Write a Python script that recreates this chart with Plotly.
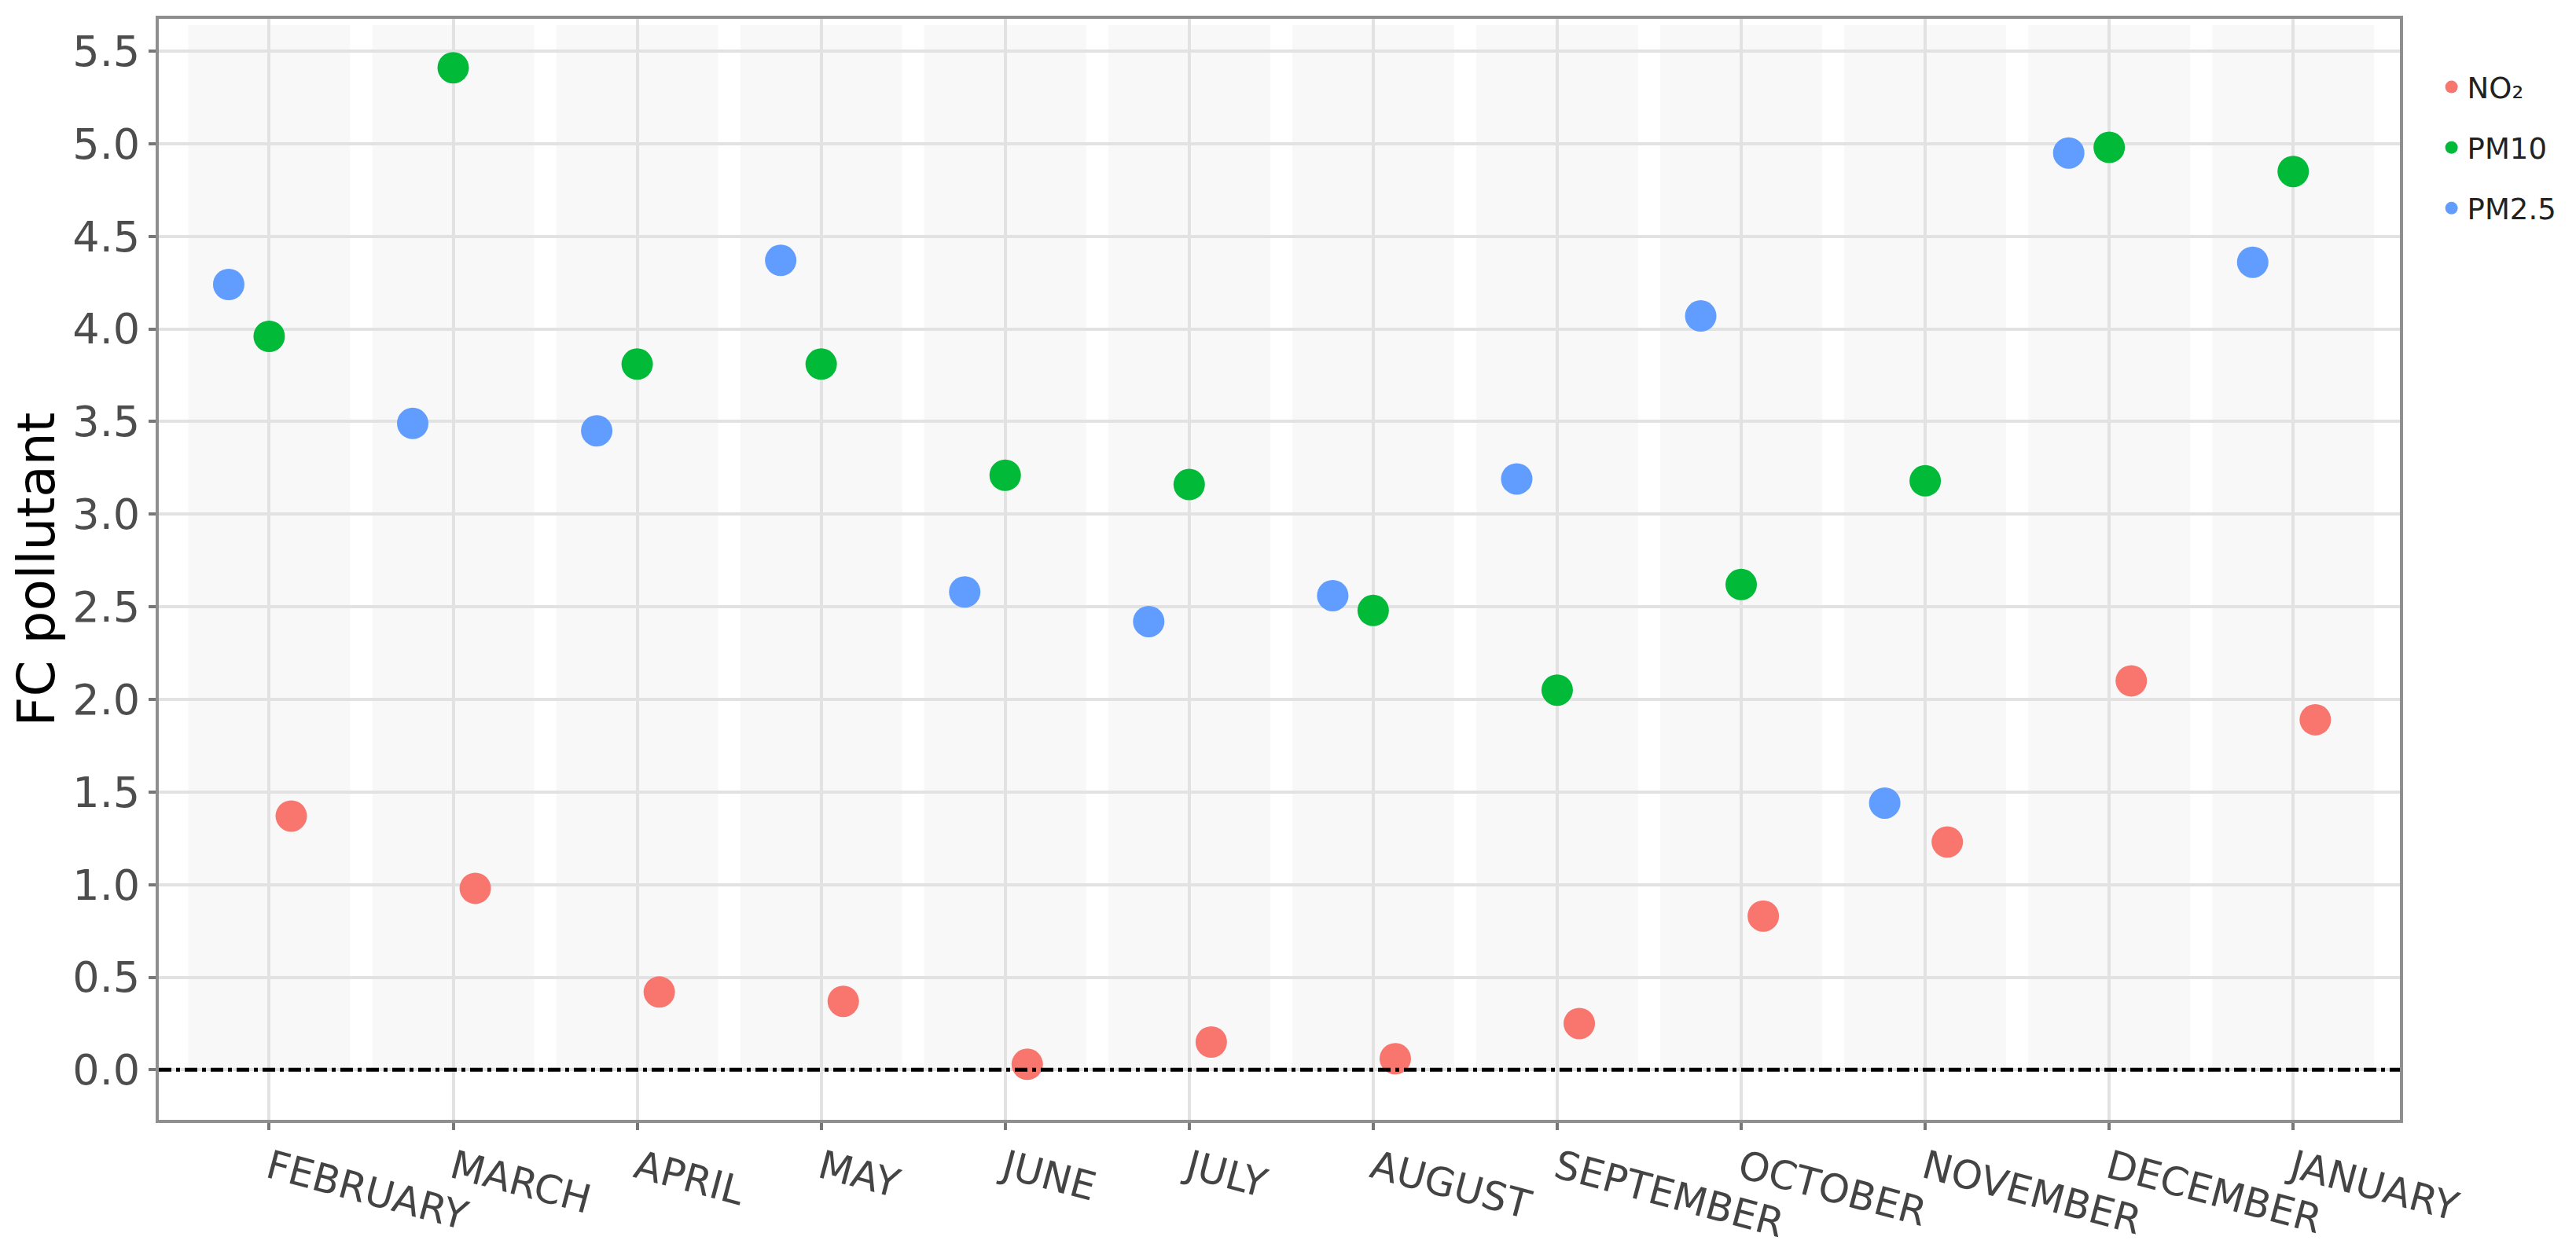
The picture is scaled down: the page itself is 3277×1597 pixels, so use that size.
import plotly.graph_objects as go

months = ["FEBRUARY", "MARCH", "APRIL", "MAY", "JUNE", "JULY", "AUGUST",
          "SEPTEMBER", "OCTOBER", "NOVEMBER", "DECEMBER", "JANUARY"]

no2 = [1.37, 0.98, 0.42, 0.37, 0.03, 0.15, 0.06, 0.25, 0.83, 1.23, 2.10, 1.89]
pm10 = [3.96, 5.41, 3.81, 3.81, 3.21, 3.16, 2.48, 2.05, 2.62, 3.18, 4.98, 4.85]
pm25 = [4.24, 3.49, 3.45, 4.37, 2.58, 2.42, 2.56, 3.19, 4.07, 1.44, 4.95, 4.36]

y_ticks = [0.0, 0.5, 1.0, 1.5, 2.0, 2.5, 3.0, 3.5, 4.0, 4.5, 5.0, 5.5]

series = [
    ("NO₂", no2, "#F8766D", 0.12),
    ("PM10", pm10, "#00BA38", 0.0),
    ("PM2.5", pm25, "#619CFF", -0.22),
]

fig = go.Figure()
idx = list(range(len(months)))
for name, vals, color, off in series:
    fig.add_trace(go.Scatter(
        x=[i + off for i in idx], y=vals, mode="markers", name=name,
        legendgroup=name,
        marker=dict(size=40, color=color, line=dict(width=0)),
        customdata=months,
        hovertemplate="%{customdata}<br>" + name + ": %{y}<extra></extra>",
    ))

# alternating background bands per month
for i in idx:
    fig.add_shape(type="rect", xref="x", yref="y", x0=i - 0.44, x1=i + 0.44,
                  y0=0, y1=5.64, fillcolor="#f8f8f8", line=dict(width=0),
                  layer="below")

# dash-dot zero reference line
fig.add_shape(type="line", xref="paper", yref="y", x0=0, x1=1, y0=0, y1=0,
              line=dict(color="black", width=5, dash="16px,6px,5px,6px"),
              layer="above")

axis_common = dict(
    showline=True, linecolor="#8f8f8f", linewidth=4, mirror=True,
    showgrid=True, gridcolor="#e2e2e2", gridwidth=4,
    ticks="outside", ticklen=9, tickwidth=4, tickcolor="#777777",
    zeroline=False,
)

fig.update_layout(
    width=3277, height=1597,
    margin=dict(l=194, r=232, t=16, b=180),
    paper_bgcolor="white", plot_bgcolor="white",
    font=dict(family="DejaVu Sans", color="#4d4d4d"),
    xaxis=dict(
        tickvals=idx, ticktext=months, range=[-0.6, 11.58],
        tickangle=15, tickfont=dict(size=50, color="#444444"),
        **axis_common,
    ),
    yaxis=dict(
        tickvals=y_ticks, ticktext=[f"{v:.1f}" for v in y_ticks],
        range=[-0.27, 5.674],
        tickfont=dict(size=54, color="#4d4d4d"),
        title=dict(text="FC pollutant", font=dict(size=66, color="black"), standoff=16),
        **axis_common,
    ),
    legend=dict(
        x=1.016, y=0.96, xanchor="left", yanchor="top",
        font=dict(size=37, color="#222222"),
        bgcolor="rgba(0,0,0,0)", tracegroupgap=26, itemsizing="trace",
    ),
    showlegend=True,
)

fig.write_html("out.html")
